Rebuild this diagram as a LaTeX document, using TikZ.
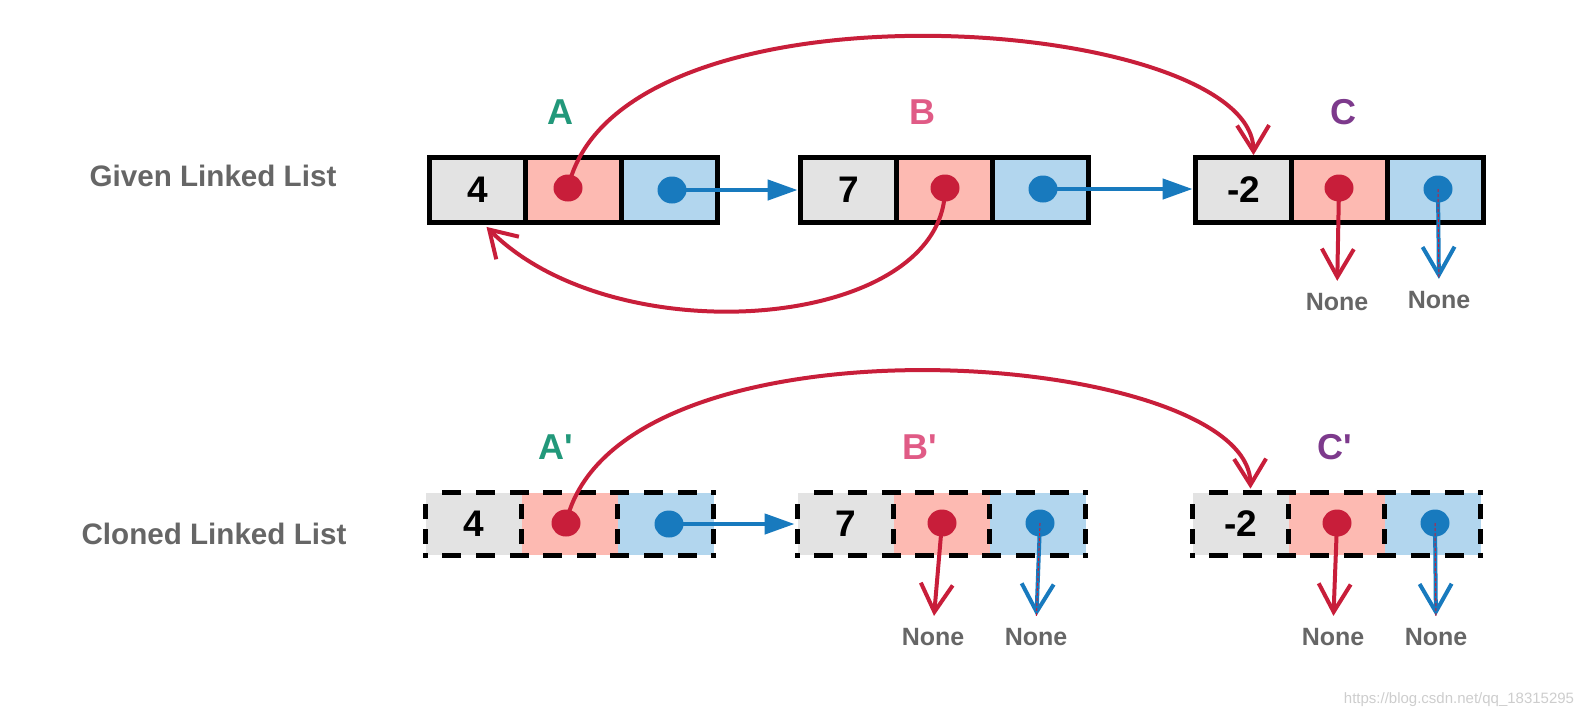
\documentclass[tikz,border=0pt]{standalone}
\usepackage{fontspec}
\setmainfont{Liberation Sans}
\usetikzlibrary{arrows.meta,shapes.geometric,decorations}
\definecolor{redc}{RGB}{200,30,58}
\definecolor{bluec}{RGB}{24,122,190}
\definecolor{cellgrey}{RGB}{227,227,227}
\definecolor{cellred}{RGB}{253,186,178}
\definecolor{cellblue}{RGB}{178,214,238}
\definecolor{txtgrey}{RGB}{102,102,102}
\definecolor{agreen}{RGB}{34,152,122}
\definecolor{bpink}{RGB}{224,91,134}
\definecolor{cpurple}{RGB}{125,58,140}
\definecolor{wmgrey}{RGB}{205,205,205}
\begin{document}
\begin{tikzpicture}[x=0.5pt,y=-0.5pt,
  cell/.style={minimum width=48pt, inner sep=0pt, font=\bfseries\fontsize{18.5}{20}\selectfont},
  toprow/.style={cell, minimum height=32.5pt},
  botrow/.style={cell, minimum height=31pt},
  gcell/.style={fill=cellgrey}, rcell/.style={fill=cellred}, bcell/.style={fill=cellblue},
  solidbox/.style={draw=black, line width=2.5pt},
  dashh/.style={draw=black, line width=2.5pt, line cap=rect, dash pattern=on 7pt off 9.5pt, dash expand off},
  dashv/.style={draw=black, line width=2.5pt, line cap=rect, dash pattern=on 5pt off 5pt, dash expand off},
  rdot/.style={ellipse, fill=redc, minimum width=14.5pt, minimum height=13.5pt, inner sep=0pt},
  bdot/.style={rdot, fill=bluec},
  nextarrow/.style={draw=bluec, line width=2.2pt, -{Triangle[length=15pt,width=10pt]}, shorten >=1.25pt},
  randarrow/.style={draw=redc, line width=2pt, -{Straight Barb[length=13pt,width=16pt]}},
  nonearrow/.style={draw=redc, line width=2pt, -{Straight Barb[length=14pt,width=16pt]}, shorten >=6pt},
  nonebarrow/.style={nonearrow, draw=bluec, postaction={draw=redc, line width=0.5pt, dash pattern=on 1.5pt off 1pt, arrows=-}},
  nonetxt/.style={font=\bfseries\fontsize{12.5}{14}\selectfont, text=txtgrey, inner sep=0pt},
  titletxt/.style={font=\bfseries\fontsize{14.8}{16}\selectfont, text=txtgrey, inner sep=0pt},
  lettertxt/.style={font=\bfseries\fontsize{18}{20}\selectfont, inner sep=0pt},
]
\useasboundingbox (0,0) rectangle (1590,720);

% titles
\node[titletxt] (given) at (213,176) {Given Linked List};
\node[titletxt] (cloned) at (214,533.5) {Cloned Linked List};

% letters
\node[lettertxt,text=agreen] (la) at (560,112) {A};
\node[lettertxt,text=bpink] (lb) at (922,112) {B};
\node[lettertxt,text=cpurple] (lc) at (1343,112) {C};
\node[lettertxt,text=agreen] (lap) at (555.5,447) {A\textquotesingle};
\node[lettertxt,text=bpink] (lbp) at (919.5,447) {B\textquotesingle};
\node[lettertxt,text=cpurple] (lcp) at (1335,447) {C\textquotesingle};

% given list
\node[toprow,gcell] (a1) at (477.5,190) {4};
\node[toprow,rcell] (a2) at (573.5,190) {};
\node[toprow,bcell] (a3) at (669.5,190) {};
\node[toprow,gcell] (b1) at (848.5,190) {7};
\node[toprow,rcell] (b2) at (944.5,190) {};
\node[toprow,bcell] (b3) at (1040.5,190) {};
\node[toprow,gcell] (c1) at (1243.5,190) {-2};
\node[toprow,rcell] (c2) at (1339.5,190) {};
\node[toprow,bcell] (c3) at (1435.5,190) {};
\foreach \n in {a,b,c}{
  \draw[solidbox] (\n1.north west) rectangle (\n3.south east);
  \draw[solidbox] (\n1.north east) -- (\n1.south east) (\n2.north east) -- (\n2.south east);
}

% cloned list
\node[botrow,gcell] (ap1) at (473.5,524) {4};
\node[botrow,rcell] (ap2) at (569.5,524) {};
\node[botrow,bcell] (ap3) at (665.5,524) {};
\node[botrow,gcell] (bp1) at (845.5,524) {7};
\node[botrow,rcell] (bp2) at (941.5,524) {};
\node[botrow,bcell] (bp3) at (1037.5,524) {};
\node[botrow,gcell] (cp1) at (1240.5,524) {-2};
\node[botrow,rcell] (cp2) at (1336.5,524) {};
\node[botrow,bcell] (cp3) at (1432.5,524) {};
\foreach \n in {ap,bp,cp}{
  \draw[dashh] (\n1.north west) -- (\n3.north east);
  \draw[dashh] (\n1.south west) -- (\n3.south east);
  \draw[dashv] (\n1.north west) -- (\n1.south west);
  \draw[dashv] (\n3.north east) -- (\n3.south east);
  \draw[dashv] (\n1.north east) -- (\n1.south east);
  \draw[dashv] (\n2.north east) -- (\n2.south east);
}

% dots
\node[rdot] (ar) at (568,188) {};
\node[bdot] (ab) at (672,190) {};
\node[rdot] (br) at (945,188) {};
\node[bdot] (bb) at (1043,189) {};
\node[rdot] (cr) at (1339,188) {};
\node[bdot] (cb) at (1438,189) {};
\node[rdot] (apr) at (566,523) {};
\node[bdot] (apb) at (669,524) {};
\node[rdot] (bpr) at (942,523) {};
\node[bdot] (bpb) at (1040,523) {};
\node[rdot] (cpr) at (1337,523) {};
\node[bdot] (cpb) at (1435,523) {};

% None labels
\node[nonetxt] (ncr) at (1337,302) {None};
\node[nonetxt] (ncb) at (1439,300) {None};
\node[nonetxt] (nbpr) at (933,637) {None};
\node[nonetxt] (nbpb) at (1036,637) {None};
\node[nonetxt] (ncpr) at (1333,637) {None};
\node[nonetxt] (ncpb) at (1436,637) {None};

% next pointers
\draw[nextarrow] (ab.center) -- (ab.center -| b1.west);
\draw[nextarrow] (bb.center) -- (bb.center -| c1.west);
\draw[nextarrow] (apb.center) -- (apb.center -| bp1.west);

% None pointers
\draw[nonearrow] (cr.center) -- (ncr.north);
\draw[nonebarrow] (cb.center) -- (ncb.north);
\draw[nonearrow] (bpr.center) -- (nbpr.north);
\draw[nonebarrow] (bpb.center) -- (nbpb.north);
\draw[nonearrow] (cpr.center) -- (ncpr.north);
\draw[nonebarrow] (cpb.center) -- (ncpb.north);

% random pointers
\draw[randarrow] (ar.center) .. controls +(50,-220) and +(-2,-140) .. ([xshift=5pt,yshift=1pt]c1.north);
\draw[randarrow] (br.center) .. controls +(0,142) and +(130,130) .. ([xshift=4.5pt,yshift=-2pt]a1.south);
\draw[randarrow] (apr.center) .. controls +(50,-220) and +(-2,-140) .. ([xshift=5pt,yshift=2pt]cp1.north);

% watermark
\node[font=\fontsize{7.5}{9}\selectfont, text=wmgrey, inner sep=0pt] (wm) at (1459,700) {https://blog.csdn.net/qq\_18315295};
\end{tikzpicture}
\end{document}
